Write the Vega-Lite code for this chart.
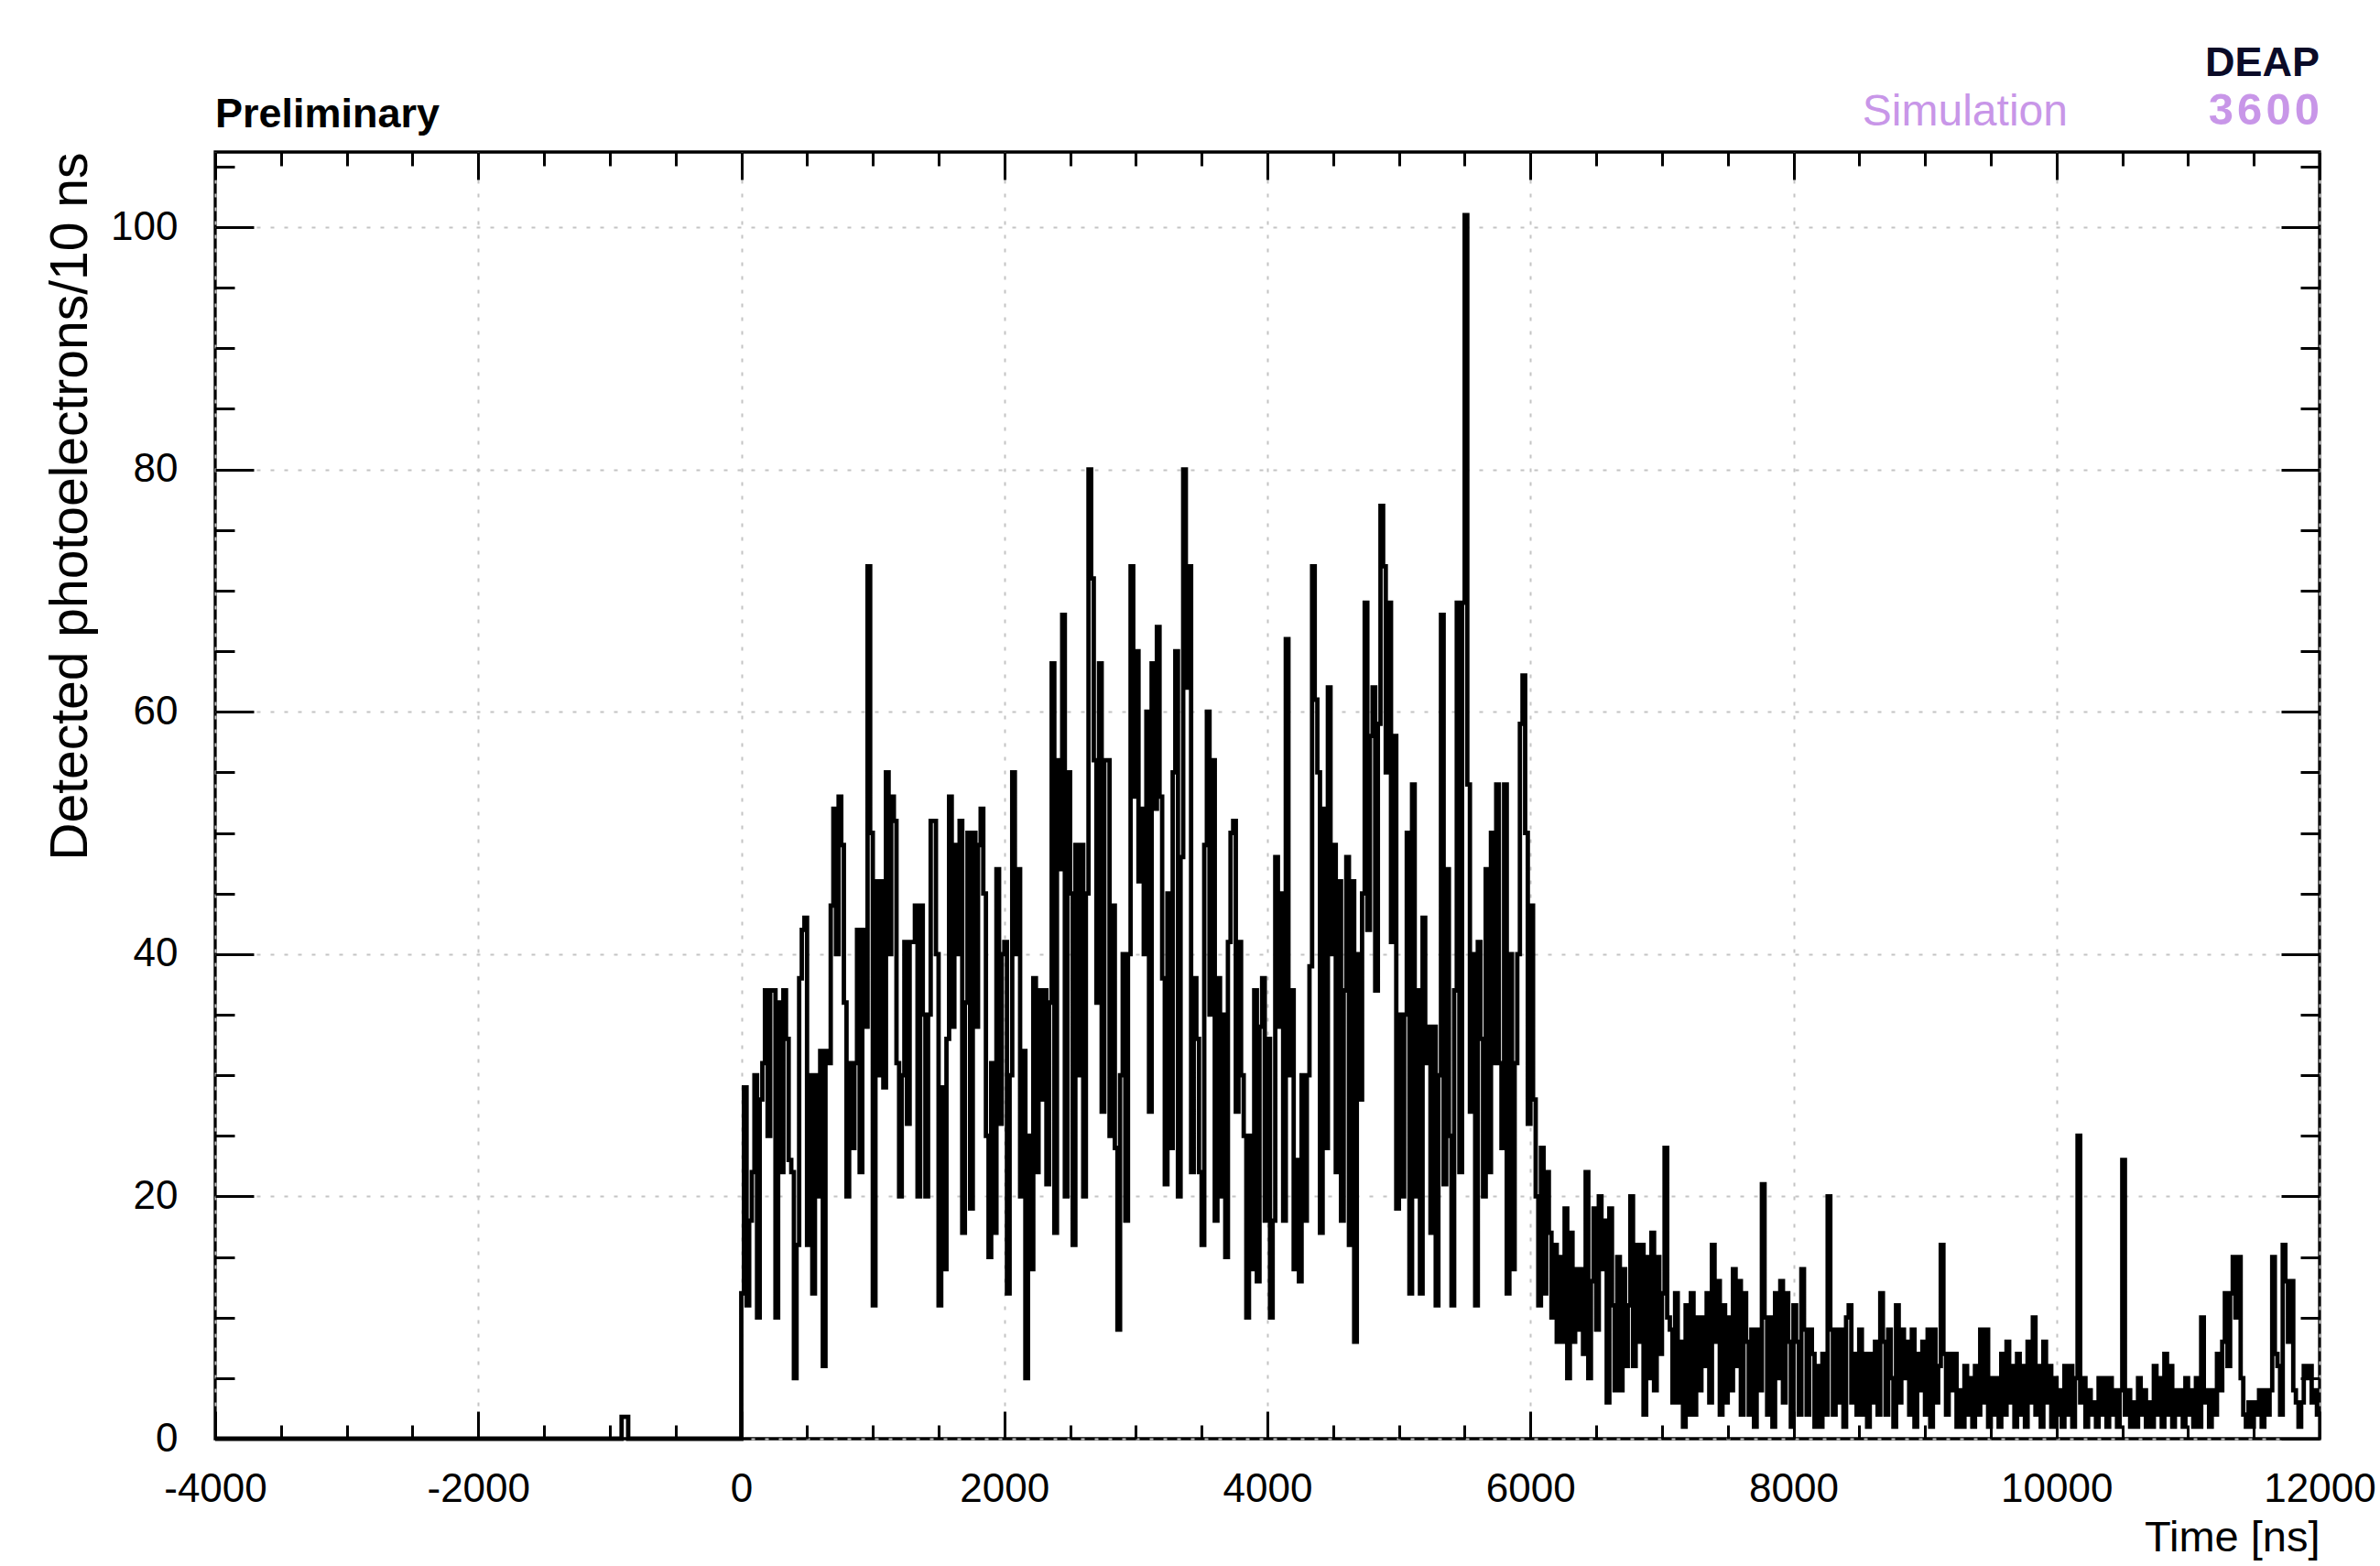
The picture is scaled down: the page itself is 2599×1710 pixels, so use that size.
{
  "$schema": "https://vega.github.io/schema/vega-lite/v6.json",
  "width": 2298,
  "height": 1405,
  "autosize": {"type": "none"},
  "padding": {"left": 235, "top": 166, "right": 66, "bottom": 139},
  "background": "white",
  "config": {
    "view": {"stroke": "black", "strokeWidth": 3.3},
    "font": "Liberation Sans",
    "axis": {"domain": false}
  },
  "datasets": {
    "hist": [
      {"t":-4000,"v":0},{"t":-910,"v":1.8},{"t":-860,"v":0},
      {"t":0,"v":12},{"t":20,"v":29},{"t":40,"v":11},{"t":60,"v":18},{"t":80,"v":22},{"t":100,"v":30},{"t":120,"v":10},{"t":140,"v":28},{"t":160,"v":31},{"t":180,"v":37},{"t":200,"v":25},{"t":220,"v":37},{"t":240,"v":37},{"t":260,"v":10},{"t":280,"v":36},{"t":300,"v":22},{"t":320,"v":37},{"t":340,"v":33},{"t":360,"v":23},{"t":380,"v":22},{"t":400,"v":5},{"t":420,"v":16},{"t":440,"v":38},{"t":460,"v":42},{"t":480,"v":43},{"t":500,"v":16},{"t":520,"v":30},{"t":540,"v":12},{"t":560,"v":30},{"t":580,"v":20},{"t":600,"v":32},{"t":620,"v":6},{"t":640,"v":32},{"t":660,"v":31},{"t":680,"v":44},{"t":700,"v":52},{"t":720,"v":40},{"t":740,"v":53},{"t":760,"v":49},{"t":780,"v":36},{"t":800,"v":20},{"t":820,"v":31},{"t":840,"v":24},{"t":860,"v":31},{"t":880,"v":42},{"t":900,"v":22},{"t":920,"v":42},{"t":940,"v":34},{"t":960,"v":72},{"t":980,"v":50},
      {"t":1000,"v":11},{"t":1020,"v":46},{"t":1040,"v":30},{"t":1060,"v":46},{"t":1080,"v":29},{"t":1100,"v":55},{"t":1120,"v":40},{"t":1140,"v":53},{"t":1160,"v":51},{"t":1180,"v":31},{"t":1200,"v":20},{"t":1220,"v":30},{"t":1240,"v":41},{"t":1260,"v":26},{"t":1280,"v":41},{"t":1300,"v":41},{"t":1320,"v":44},{"t":1340,"v":20},{"t":1360,"v":44},{"t":1380,"v":35},{"t":1400,"v":20},{"t":1420,"v":35},{"t":1440,"v":51},{"t":1460,"v":51},{"t":1480,"v":40},{"t":1500,"v":11},{"t":1520,"v":29},{"t":1540,"v":14},{"t":1560,"v":33},{"t":1580,"v":53},{"t":1600,"v":34},{"t":1620,"v":49},{"t":1640,"v":40},{"t":1660,"v":51},{"t":1680,"v":17},{"t":1700,"v":36},{"t":1720,"v":50},{"t":1740,"v":19},{"t":1760,"v":50},{"t":1780,"v":34},{"t":1800,"v":49},{"t":1820,"v":52},{"t":1840,"v":45},{"t":1860,"v":25},{"t":1880,"v":15},{"t":1900,"v":31},{"t":1920,"v":17},{"t":1940,"v":47},{"t":1960,"v":26},{"t":1980,"v":40},
      {"t":2000,"v":41},{"t":2020,"v":12},{"t":2040,"v":30},{"t":2060,"v":55},{"t":2080,"v":40},{"t":2100,"v":47},{"t":2120,"v":20},{"t":2140,"v":32},{"t":2160,"v":5},{"t":2180,"v":25},{"t":2200,"v":14},{"t":2220,"v":38},{"t":2240,"v":22},{"t":2260,"v":37},{"t":2280,"v":28},{"t":2300,"v":37},{"t":2320,"v":21},{"t":2340,"v":36},{"t":2360,"v":64},{"t":2380,"v":17},{"t":2400,"v":56},{"t":2420,"v":47},{"t":2440,"v":68},{"t":2460,"v":20},{"t":2480,"v":55},{"t":2500,"v":45},{"t":2520,"v":16},{"t":2540,"v":49},{"t":2560,"v":30},{"t":2580,"v":49},{"t":2600,"v":20},{"t":2620,"v":45},{"t":2640,"v":80},{"t":2660,"v":71},{"t":2680,"v":56},{"t":2700,"v":36},{"t":2720,"v":64},{"t":2740,"v":27},{"t":2760,"v":56},{"t":2780,"v":56},{"t":2800,"v":25},{"t":2820,"v":44},{"t":2840,"v":24},{"t":2860,"v":9},{"t":2880,"v":30},{"t":2900,"v":40},{"t":2920,"v":18},{"t":2940,"v":40},{"t":2960,"v":72},{"t":2980,"v":53},
      {"t":3000,"v":65},{"t":3020,"v":46},{"t":3040,"v":52},{"t":3060,"v":40},{"t":3080,"v":60},{"t":3100,"v":27},{"t":3120,"v":64},{"t":3140,"v":52},{"t":3160,"v":67},{"t":3180,"v":53},{"t":3200,"v":38},{"t":3220,"v":21},{"t":3240,"v":45},{"t":3260,"v":24},{"t":3280,"v":55},{"t":3300,"v":65},{"t":3320,"v":20},{"t":3340,"v":48},{"t":3360,"v":80},{"t":3380,"v":62},{"t":3400,"v":72},{"t":3420,"v":22},{"t":3440,"v":38},{"t":3460,"v":33},{"t":3480,"v":22},{"t":3500,"v":16},{"t":3520,"v":49},{"t":3540,"v":60},{"t":3560,"v":35},{"t":3580,"v":56},{"t":3600,"v":18},{"t":3620,"v":38},{"t":3640,"v":20},{"t":3660,"v":35},{"t":3680,"v":15},{"t":3700,"v":41},{"t":3720,"v":50},{"t":3740,"v":51},{"t":3760,"v":27},{"t":3780,"v":41},{"t":3800,"v":30},{"t":3820,"v":25},{"t":3840,"v":10},{"t":3860,"v":25},{"t":3880,"v":14},{"t":3900,"v":37},{"t":3920,"v":13},{"t":3940,"v":34},{"t":3960,"v":38},{"t":3980,"v":18},
      {"t":4000,"v":33},{"t":4020,"v":10},{"t":4040,"v":18},{"t":4060,"v":48},{"t":4080,"v":34},{"t":4100,"v":45},{"t":4120,"v":18},{"t":4140,"v":66},{"t":4160,"v":30},{"t":4180,"v":37},{"t":4200,"v":14},{"t":4220,"v":23},{"t":4240,"v":13},{"t":4260,"v":30},{"t":4280,"v":18},{"t":4300,"v":30},{"t":4320,"v":39},{"t":4340,"v":72},{"t":4360,"v":61},{"t":4380,"v":55},{"t":4400,"v":17},{"t":4420,"v":52},{"t":4440,"v":24},{"t":4460,"v":62},{"t":4480,"v":40},{"t":4500,"v":49},{"t":4520,"v":22},{"t":4540,"v":46},{"t":4560,"v":18},{"t":4580,"v":37},{"t":4600,"v":48},{"t":4620,"v":16},{"t":4640,"v":46},{"t":4660,"v":8},{"t":4680,"v":40},{"t":4700,"v":28},{"t":4720,"v":45},{"t":4740,"v":69},{"t":4760,"v":42},{"t":4780,"v":58},{"t":4800,"v":62},{"t":4820,"v":37},{"t":4840,"v":59},{"t":4860,"v":77},{"t":4880,"v":72},{"t":4900,"v":55},{"t":4920,"v":69},{"t":4940,"v":41},{"t":4960,"v":58},{"t":4980,"v":19},
      {"t":5000,"v":35},{"t":5020,"v":20},{"t":5040,"v":35},{"t":5060,"v":50},{"t":5080,"v":12},{"t":5100,"v":54},{"t":5120,"v":20},{"t":5140,"v":37},{"t":5160,"v":12},{"t":5180,"v":43},{"t":5200,"v":31},{"t":5220,"v":34},{"t":5240,"v":17},{"t":5260,"v":34},{"t":5280,"v":11},{"t":5300,"v":30},{"t":5320,"v":68},{"t":5340,"v":21},{"t":5360,"v":47},{"t":5380,"v":25},{"t":5400,"v":11},{"t":5420,"v":37},{"t":5440,"v":69},{"t":5460,"v":22},{"t":5480,"v":69},{"t":5500,"v":101},{"t":5520,"v":54},{"t":5540,"v":27},{"t":5560,"v":40},{"t":5580,"v":11},{"t":5600,"v":41},{"t":5620,"v":33},{"t":5640,"v":20},{"t":5660,"v":47},{"t":5680,"v":22},{"t":5700,"v":50},{"t":5720,"v":31},{"t":5740,"v":54},{"t":5760,"v":31},{"t":5780,"v":24},{"t":5800,"v":54},{"t":5820,"v":12},{"t":5840,"v":40},{"t":5860,"v":14},{"t":5880,"v":31},{"t":5900,"v":40},{"t":5920,"v":59},{"t":5940,"v":63},{"t":5960,"v":50},{"t":5980,"v":26},
      {"t":6000,"v":44},{"t":6020,"v":28},{"t":6040,"v":20},{"t":6060,"v":11},{"t":6080,"v":24},{"t":6100,"v":12},{"t":6120,"v":22},{"t":6140,"v":17},{"t":6160,"v":10},{"t":6180,"v":16},{"t":6200,"v":8},{"t":6220,"v":15},{"t":6240,"v":8},{"t":6260,"v":19},{"t":6280,"v":5},{"t":6300,"v":17},{"t":6320,"v":8},{"t":6340,"v":14},{"t":6360,"v":9},{"t":6380,"v":14},{"t":6400,"v":7},{"t":6420,"v":22},{"t":6440,"v":5},{"t":6460,"v":13},{"t":6480,"v":19},{"t":6500,"v":9},{"t":6520,"v":20},{"t":6540,"v":14},{"t":6560,"v":18},{"t":6580,"v":3},{"t":6600,"v":19},{"t":6620,"v":11},{"t":6640,"v":4},{"t":6660,"v":15},{"t":6680,"v":4},{"t":6700,"v":14},{"t":6720,"v":6},{"t":6740,"v":11},{"t":6760,"v":20},{"t":6780,"v":6},{"t":6800,"v":16},{"t":6820,"v":8},{"t":6840,"v":16},{"t":6860,"v":2},{"t":6880,"v":15},{"t":6900,"v":5},{"t":6920,"v":17},{"t":6940,"v":4},{"t":6960,"v":15},{"t":6980,"v":7},
      {"t":7000,"v":12},{"t":7020,"v":24},{"t":7040,"v":10},{"t":7060,"v":9},{"t":7080,"v":3},{"t":7100,"v":12},{"t":7120,"v":3},{"t":7140,"v":8},{"t":7160,"v":1},{"t":7180,"v":11},{"t":7200,"v":2},{"t":7220,"v":12},{"t":7240,"v":2},{"t":7260,"v":10},{"t":7280,"v":4},{"t":7300,"v":10},{"t":7320,"v":6},{"t":7340,"v":12},{"t":7360,"v":3},{"t":7380,"v":16},{"t":7400,"v":8},{"t":7420,"v":13},{"t":7440,"v":2},{"t":7460,"v":11},{"t":7480,"v":3},{"t":7500,"v":10},{"t":7520,"v":4},{"t":7540,"v":14},{"t":7560,"v":6},{"t":7580,"v":13},{"t":7600,"v":2},{"t":7620,"v":12},{"t":7640,"v":8},{"t":7660,"v":2},{"t":7680,"v":9},{"t":7700,"v":1},{"t":7720,"v":9},{"t":7740,"v":4},{"t":7760,"v":21},{"t":7780,"v":10},{"t":7800,"v":2},{"t":7820,"v":10},{"t":7840,"v":1},{"t":7860,"v":12},{"t":7880,"v":5},{"t":7900,"v":13},{"t":7920,"v":3},{"t":7940,"v":12},{"t":7960,"v":8},{"t":7980,"v":1},
      {"t":8000,"v":11},{"t":8020,"v":8},{"t":8040,"v":2},{"t":8060,"v":14},{"t":8080,"v":9},{"t":8100,"v":2},{"t":8120,"v":9},{"t":8140,"v":7},{"t":8160,"v":1},{"t":8180,"v":6},{"t":8200,"v":1},{"t":8220,"v":7},{"t":8240,"v":2},{"t":8260,"v":20},{"t":8280,"v":9},{"t":8300,"v":2},{"t":8320,"v":9},{"t":8340,"v":3},{"t":8360,"v":9},{"t":8380,"v":1},{"t":8400,"v":10},{"t":8420,"v":11},{"t":8440,"v":3},{"t":8460,"v":7},{"t":8480,"v":2},{"t":8500,"v":9},{"t":8520,"v":2},{"t":8540,"v":7},{"t":8560,"v":1},{"t":8580,"v":7},{"t":8600,"v":3},{"t":8620,"v":8},{"t":8640,"v":2},{"t":8660,"v":12},{"t":8680,"v":8},{"t":8700,"v":2},{"t":8720,"v":9},{"t":8740,"v":5},{"t":8760,"v":1},{"t":8780,"v":11},{"t":8800,"v":3},{"t":8820,"v":9},{"t":8840,"v":5},{"t":8860,"v":8},{"t":8880,"v":2},{"t":8900,"v":9},{"t":8920,"v":1},{"t":8940,"v":7},{"t":8960,"v":4},{"t":8980,"v":8},
      {"t":9000,"v":2},{"t":9020,"v":9},{"t":9040,"v":1},{"t":9060,"v":9},{"t":9080,"v":3},{"t":9100,"v":6},{"t":9120,"v":16},{"t":9140,"v":7},{"t":9160,"v":2},{"t":9180,"v":7},{"t":9200,"v":4},{"t":9220,"v":7},{"t":9240,"v":1},{"t":9260,"v":4},{"t":9280,"v":1},{"t":9300,"v":6},{"t":9320,"v":2},{"t":9340,"v":5},{"t":9360,"v":1},{"t":9380,"v":6},{"t":9400,"v":2},{"t":9420,"v":9},{"t":9440,"v":3},{"t":9460,"v":9},{"t":9480,"v":1},{"t":9500,"v":5},{"t":9520,"v":2},{"t":9540,"v":5},{"t":9560,"v":1},{"t":9580,"v":7},{"t":9600,"v":2},{"t":9620,"v":8},{"t":9640,"v":3},{"t":9660,"v":6},{"t":9680,"v":1},{"t":9700,"v":7},{"t":9720,"v":2},{"t":9740,"v":6},{"t":9760,"v":1},{"t":9780,"v":8},{"t":9800,"v":3},{"t":9820,"v":10},{"t":9840,"v":2},{"t":9860,"v":6},{"t":9880,"v":1},{"t":9900,"v":8},{"t":9920,"v":3},{"t":9940,"v":6},{"t":9960,"v":1},{"t":9980,"v":5},
      {"t":10000,"v":2},{"t":10020,"v":4},{"t":10040,"v":1},{"t":10060,"v":6},{"t":10080,"v":2},{"t":10100,"v":6},{"t":10120,"v":1},{"t":10140,"v":5},{"t":10160,"v":25},{"t":10180,"v":3},{"t":10200,"v":5},{"t":10220,"v":1},{"t":10240,"v":4},{"t":10260,"v":2},{"t":10280,"v":3},{"t":10300,"v":1},{"t":10320,"v":5},{"t":10340,"v":2},{"t":10360,"v":5},{"t":10380,"v":1},{"t":10400,"v":5},{"t":10420,"v":2},{"t":10440,"v":4},{"t":10460,"v":1},{"t":10480,"v":4},{"t":10500,"v":23},{"t":10520,"v":2},{"t":10540,"v":4},{"t":10560,"v":1},{"t":10580,"v":3},{"t":10600,"v":1},{"t":10620,"v":5},{"t":10640,"v":2},{"t":10660,"v":4},{"t":10680,"v":1},{"t":10700,"v":3},{"t":10720,"v":1},{"t":10740,"v":6},{"t":10760,"v":2},{"t":10780,"v":5},{"t":10800,"v":1},{"t":10820,"v":7},{"t":10840,"v":2},{"t":10860,"v":6},{"t":10880,"v":1},{"t":10900,"v":4},{"t":10920,"v":2},{"t":10940,"v":4},{"t":10960,"v":1},{"t":10980,"v":5},
      {"t":11000,"v":2},{"t":11020,"v":4},{"t":11040,"v":1},{"t":11060,"v":5},{"t":11080,"v":1},{"t":11100,"v":10},{"t":11120,"v":3},{"t":11140,"v":4},{"t":11160,"v":1},{"t":11180,"v":4},{"t":11200,"v":2},{"t":11220,"v":7},{"t":11240,"v":4},{"t":11260,"v":8},{"t":11280,"v":12},{"t":11300,"v":6},{"t":11320,"v":12},{"t":11340,"v":15},{"t":11360,"v":10},{"t":11380,"v":15},{"t":11400,"v":5},{"t":11420,"v":2},{"t":11440,"v":1},{"t":11460,"v":3},{"t":11480,"v":1},{"t":11500,"v":3},{"t":11520,"v":2},{"t":11540,"v":4},{"t":11560,"v":1},{"t":11580,"v":4},{"t":11600,"v":2},{"t":11620,"v":4},{"t":11640,"v":15},{"t":11660,"v":7},{"t":11680,"v":6},{"t":11700,"v":2},{"t":11720,"v":16},{"t":11740,"v":13},{"t":11760,"v":8},{"t":11780,"v":13},{"t":11800,"v":4},{"t":11820,"v":3},{"t":11840,"v":1},{"t":11860,"v":3},{"t":11880,"v":6},{"t":11900,"v":5},{"t":11920,"v":6},{"t":11940,"v":3},{"t":11960,"v":4},{"t":11980,"v":2},{"t":12000,"v":2}
    ]
  },
  "layer": [
    {
      "data": {"name": "hist"},
      "mark": {"type": "line", "interpolate": "step-after", "color": "black", "strokeWidth": 4.8},
      "encoding": {
        "x": {
          "field": "t", "type": "quantitative",
          "scale": {"domain": [-4000, 12000], "nice": false, "zero": false},
          "axis": {
            "orient": "bottom",
            "values": [-4000,-3500,-3000,-2500,-2000,-1500,-1000,-500,0,500,1000,1500,2000,2500,3000,3500,4000,4500,5000,5500,6000,6500,7000,7500,8000,8500,9000,9500,10000,10500,11000,11500,12000],
            "tickSize": {"condition": {"test": "datum.value % 2000 === 0", "value": -30}, "value": -15},
            "tickWidth": 3, "tickColor": "black",
            "grid": true, "gridColor": "#c4c4c4", "gridDash": [4, 11], "gridWidth": 2,
            "gridOpacity": {"condition": {"test": "datum.value % 2000 === 0", "value": 1}, "value": 0},
            "labelExpr": "datum.value % 2000 === 0 ? '' + datum.value : ''",
            "labelFont": "Liberation Sans", "labelFontSize": 44, "labelColor": "black",
            "labelPadding": 63, "labelFlush": false, "labelOverlap": false, "labelBound": false,
            "title": "Time [ns]", "titleAnchor": "end", "titleAlign": "right",
            "titleFont": "Liberation Sans", "titleFontSize": 47, "titleFontWeight": "normal",
            "titleColor": "black", "titlePadding": -7
          }
        },
        "y": {
          "field": "v", "type": "quantitative",
          "scale": {"domain": [0, 106.2], "nice": false, "zero": false},
          "axis": {
            "orient": "left",
            "values": [0,5,10,15,20,25,30,35,40,45,50,55,60,65,70,75,80,85,90,95,100,105],
            "tickSize": {"condition": {"test": "datum.value % 20 === 0", "value": -42}, "value": -21},
            "tickWidth": 3, "tickColor": "black",
            "grid": true, "gridColor": "#c4c4c4", "gridDash": [4, 11], "gridWidth": 2,
            "gridOpacity": {"condition": {"test": "datum.value % 20 === 0", "value": 1}, "value": 0},
            "labelExpr": "datum.value % 20 === 0 ? '' + datum.value : ''",
            "labelFont": "Liberation Sans", "labelFontSize": 44, "labelColor": "black",
            "labelPadding": 83, "labelFlush": false, "labelOverlap": false, "labelBound": false,
            "title": "Detected photoelectrons/10 ns", "titleAnchor": "end",
            "titleFont": "Liberation Sans", "titleFontSize": 57, "titleFontWeight": "normal",
            "titleColor": "black", "titlePadding": 14
          }
        }
      }
    },
    {
      "data": {"name": "hist"},
      "mark": {"type": "line", "interpolate": "step-after", "strokeOpacity": 0},
      "encoding": {
        "x": {
          "field": "t", "type": "quantitative",
          "scale": {"domain": [-4000, 12000], "nice": false, "zero": false},
          "axis": {
            "orient": "top",
            "values": [-4000,-3500,-3000,-2500,-2000,-1500,-1000,-500,0,500,1000,1500,2000,2500,3000,3500,4000,4500,5000,5500,6000,6500,7000,7500,8000,8500,9000,9500,10000,10500,11000,11500,12000],
            "tickSize": {"condition": {"test": "datum.value % 2000 === 0", "value": -30}, "value": -15},
            "tickWidth": 3, "tickColor": "black",
            "grid": false, "labels": false, "title": null
          }
        },
        "y": {
          "field": "v", "type": "quantitative",
          "scale": {"domain": [0, 106.2], "nice": false, "zero": false},
          "axis": {
            "orient": "right",
            "values": [0,5,10,15,20,25,30,35,40,45,50,55,60,65,70,75,80,85,90,95,100,105],
            "tickSize": {"condition": {"test": "datum.value % 20 === 0", "value": -42}, "value": -21},
            "tickWidth": 3, "tickColor": "black",
            "grid": false, "labels": false, "title": null
          }
        }
      }
    },
    {
      "data": {"values": [{"label": "Preliminary"}]},
      "mark": {"type": "text", "align": "left", "baseline": "alphabetic", "font": "Liberation Sans", "fontSize": 45, "fontWeight": "bold", "color": "black"},
      "encoding": {
        "text": {"field": "label"},
        "x": {"datum": -4000, "type": "quantitative", "scale": {"domain": [-4000, 12000], "nice": false, "zero": false}, "axis": null},
        "y": {"datum": 108.24, "type": "quantitative", "scale": {"domain": [0, 106.2], "nice": false, "zero": false}, "axis": null}
      }
    },
    {
      "data": {"values": [{"label": "DEAP"}]},
      "mark": {"type": "text", "align": "right", "baseline": "alphabetic", "font": "Liberation Sans", "fontSize": 45, "fontWeight": "bold", "color": "#0b0b28"},
      "encoding": {
        "text": {"field": "label"},
        "x": {"datum": 12000, "type": "quantitative", "scale": {"domain": [-4000, 12000], "nice": false, "zero": false}, "axis": null},
        "y": {"datum": 112.47, "type": "quantitative", "scale": {"domain": [0, 106.2], "nice": false, "zero": false}, "axis": null}
      }
    },
    {
      "data": {"values": [{"label": "3\u200a6\u200a0\u200a0"}]},
      "mark": {"type": "text", "align": "right", "baseline": "alphabetic", "font": "Liberation Sans", "fontSize": 49, "fontWeight": "bold", "color": "#c896e8"},
      "encoding": {
        "text": {"field": "label"},
        "x": {"datum": 12000, "type": "quantitative", "scale": {"domain": [-4000, 12000], "nice": false, "zero": false}, "axis": null},
        "y": {"datum": 108.47, "type": "quantitative", "scale": {"domain": [0, 106.2], "nice": false, "zero": false}, "axis": null}
      }
    },
    {
      "data": {"values": [{"label": "Simulation"}]},
      "mark": {"type": "text", "align": "right", "baseline": "alphabetic", "font": "Liberation Sans", "fontSize": 48, "fontWeight": "normal", "color": "#c896e8"},
      "encoding": {
        "text": {"field": "label"},
        "x": {"datum": 10085, "type": "quantitative", "scale": {"domain": [-4000, 12000], "nice": false, "zero": false}, "axis": null},
        "y": {"datum": 108.4, "type": "quantitative", "scale": {"domain": [0, 106.2], "nice": false, "zero": false}, "axis": null}
      }
    }
  ],
  "resolve": {"axis": {"x": "independent", "y": "independent"}}
}
